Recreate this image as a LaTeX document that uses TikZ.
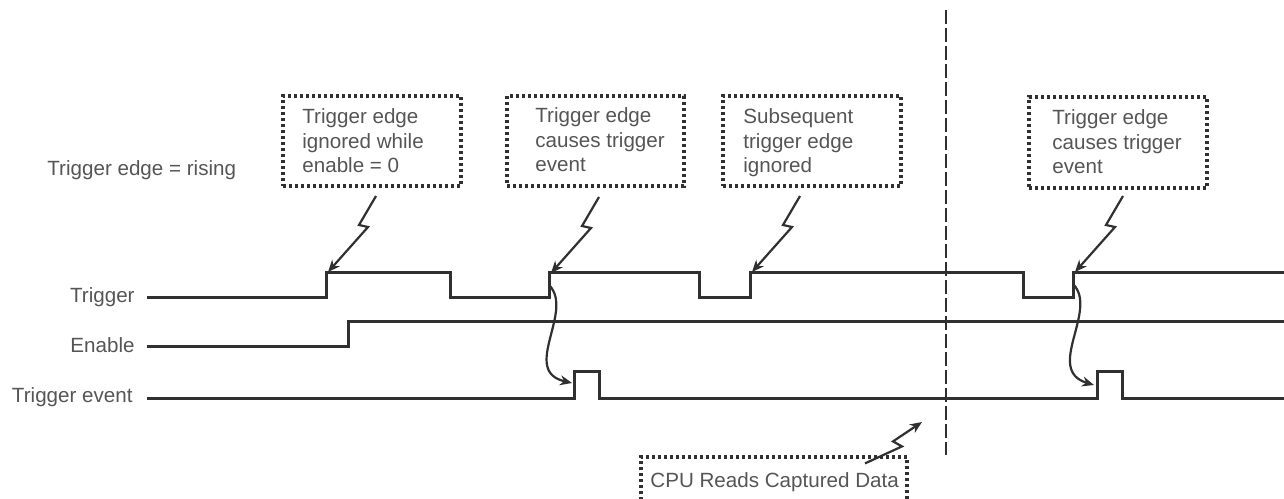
\documentclass[tikz,border=0pt]{standalone}
\usepackage{fontspec}
\setmainfont{Liberation Sans}
\usetikzlibrary{arrows.meta,calc}
\definecolor{sig}{HTML}{303030}
\definecolor{txt}{HTML}{555555}
\begin{document}
\begin{tikzpicture}[x=0.5pt,y=-0.5pt,
  every node/.style={font=\fontsize{10.3}{12.4}\selectfont, text=txt, inner sep=0pt},
  signal/.style={draw=sig, line width=1.5pt, line join=miter},
  dotbox/.style={draw=sig, line width=1.6pt, dash pattern=on 1.5pt off 1.5pt, rectangle, inner sep=0pt},
  boxtext/.style={anchor=north west, align=left},
  zig/.style={draw=sig, line width=1.1pt, -{Stealth[length=6pt,width=5pt]}},
  swoop/.style={draw=sig, line width=1.1pt, -{Stealth[length=6pt,width=5pt]}},
  label/.style={anchor=base east}
]
\useasboundingbox (0,0) rectangle (1284,498);

% labels
\node[anchor=base west] (rule) at (47,175) {Trigger edge = rising};
\node[label] (ltrig) at (135,302) {Trigger};
\node[label] (lena) at (135,352) {Enable};
\node[label] (levt) at (133,402) {Trigger event};

% signals
\draw[signal] (147,297) -- (326,297) -- (326,272) -- (450,272) -- (450,297) -- (549,297) -- (549,272)
  -- (699,272) -- (699,297) -- (750,297) -- (750,272) -- (1023,272) -- (1023,297) -- (1073,297)
  -- (1073,272) -- (1284,272);
\draw[signal] (147,346) -- (348,346) -- (348,321) -- (1284,321);
\draw[signal] (147,398) -- (574,398) -- (574,371) -- (599,371) -- (599,398) -- (1097,398)
  -- (1097,371) -- (1122,371) -- (1122,398) -- (1284,398);

% boxes
\node[dotbox, minimum width=178*0.5pt, minimum height=90*0.5pt] (b1) at (372,141) {};
\node[dotbox, minimum width=177*0.5pt, minimum height=90*0.5pt] (b2) at (595.5,141) {};
\node[dotbox, minimum width=178*0.5pt, minimum height=90*0.5pt] (b3) at (812,141) {};
\node[dotbox, minimum width=178*0.5pt, minimum height=91*0.5pt] (b4) at (1118,142.5) {};
\node[dotbox, minimum width=266*0.5pt, minimum height=70*0.5pt] (b5) at (774,492) {};

\node[boxtext] (t1) at (302,108) {Trigger edge\\ignored while\\enable = 0};
\node[boxtext] (t2) at (535,107) {Trigger edge\\causes trigger\\event};
\node[boxtext] (t3) at (743,108) {Subsequent\\trigger edge\\ignored};
\node[boxtext] (t4) at (1052,109) {Trigger edge\\causes trigger\\event};
\node[anchor=base west] (t5) at (650,487) {CPU Reads Captured Data};

% edge targets
\coordinate (e1) at (328,272);
\coordinate (e2) at (551,273);
\coordinate (e3) at (752,272);
\coordinate (e4) at (1075,272);
\coordinate (p1) at (572,383);
\coordinate (p2) at (1094,385);
\coordinate (dl) at (946,421);

% lightning arrows
\foreach \e in {e1,e2,e3,e4}{
  \draw[zig] ($(\e)+(48,-76)$) -- ++(-17,29) -- ++(9,2) -- (\e);
}
\draw[zig] ($(b5.north)+(91,8)$) -- ++(37,-17) -- ++(-9,-5) -- ($(dl)+(-24,1)$);

% cause arrows
\draw[swoop] ($(e2)+(-2,12)$) .. controls ($(e2)+(24,38)$) and ($(e2)+(-31,98)$) .. (p1);
\draw[swoop] ($(e4)+(-2,12)$) .. controls ($(e4)+(24,38)$) and ($(e4)+(-31,98)$) .. (p2);

% dashed divider
\draw[draw=sig, line width=1.4pt, dash pattern=on 7pt off 2pt] (946,10) -- (dl) -- (946,455);
\end{tikzpicture}
\end{document}
